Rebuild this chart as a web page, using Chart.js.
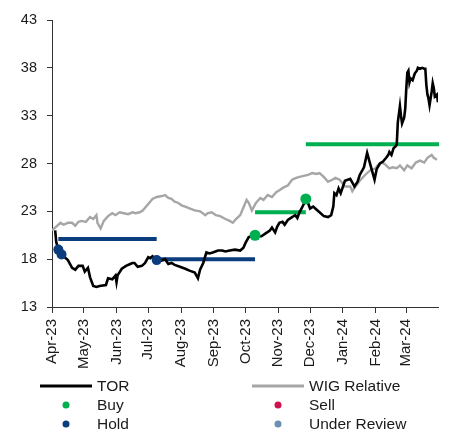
<!DOCTYPE html>
<html>
<head>
<meta charset="utf-8">
<script src="https://cdn.jsdelivr.net/npm/chart.js@4"></script>
<style>
  body { margin: 0; background: #fff; }
  #wrap { width: 449px; height: 432px; }
</style>
</head>
<body>
<div id="wrap"><canvas id="chart"></canvas></div>
<script>
// x values are days counted from 1 Apr 2023
const monthLabels = ["Apr-23", "May-23", "Jun-23", "Jul-23", "Aug-23", "Sep-23",
  "Oct-23", "Nov-23", "Dec-23", "Jan-24", "Feb-24", "Mar-24"];

const torDays = [3, 4, 6, 9, 12, 15, 19, 22, 25, 29, 31, 34, 36, 39, 42, 45, 51, 53, 57, 60,
  61, 62, 66, 70, 74, 76, 78, 81, 85, 88, 91, 93, 95, 99, 102, 107, 110, 113, 116, 121,
  126, 130, 135, 138, 140, 143, 146, 149, 152, 157, 161, 164, 168, 173, 178, 181, 183, 186, 192, 195,
  198, 202, 206, 208, 211, 213, 215, 218, 220, 223, 227, 230, 232, 234, 236, 240, 242, 244, 247, 250,
  253, 257, 261, 264, 266, 267, 269, 271, 273, 277, 282, 284, 286, 289, 291, 295, 298, 302, 305, 307,
  310, 313, 316, 318, 319, 321, 323, 325, 326, 327, 329, 330, 331, 333, 334, 335, 336, 337, 338, 339,
  341, 343, 345, 346, 348, 350, 352, 353, 354, 355, 356, 357, 359, 360, 361, 362, 364, 365];
const torValues = [21.0, 19.8, 19.0, 18.5, 18.2, 17.9, 17.1, 16.9, 17.3, 17.3, 16.7, 17.1, 16.1, 15.2, 15.1, 15.2, 15.3, 16.0, 15.9, 16.3,
  15.6, 16.3, 17.0, 17.3, 17.5, 17.6, 17.6, 17.2, 17.3, 17.6, 18.2, 18.1, 18.3, 17.9, 17.8, 18.0, 17.5, 17.6, 17.4, 17.2,
  17.0, 16.8, 16.6, 16.0, 16.9, 17.6, 18.7, 18.6, 18.7, 18.9, 18.9, 18.8, 18.9, 19.0, 18.9, 19.2, 19.7, 20.3, 20.5, 20.4,
  20.4, 20.7, 21.0, 21.3, 20.8, 21.4, 21.8, 21.9, 21.6, 22.1, 22.4, 22.6, 22.3, 22.9, 23.3, 24.2, 23.9, 23.3, 23.5, 23.2,
  22.9, 22.5, 22.4, 22.6, 23.5, 24.9, 24.7, 25.4, 24.9, 26.2, 26.4, 26.0, 25.6, 26.1, 26.8, 27.6, 29.1, 27.5, 26.3, 27.4,
  28.0, 28.2, 28.6, 28.9, 29.2, 28.9, 29.6, 29.8, 30.0, 32.3, 34.0, 33.0, 32.2, 32.8, 33.7, 35.8, 37.5, 37.7, 36.5, 36.9,
  36.7, 37.4, 37.7, 38.0, 37.9, 38.0, 37.9, 37.9, 36.2, 35.2, 34.8, 34.1, 35.5, 36.4, 35.9, 35.0, 35.2, 34.4];

const wigDays = [0, 4, 8, 11, 15, 19, 22, 25, 28, 32, 36, 39, 42, 43, 46, 49, 53, 57, 60, 64,
  68, 72, 76, 79, 83, 86, 89, 92, 95, 99, 104, 107, 110, 113, 116, 119, 123, 126, 130, 135,
  140, 145, 147, 151, 155, 159, 164, 168, 171, 174, 178, 181, 184, 186, 189, 193, 197, 200, 204, 208,
  212, 215, 219, 223, 227, 231, 234, 238, 242, 246, 250, 253, 257, 261, 265, 268, 272, 277, 282, 284,
  287, 291, 296, 301, 306, 308, 312, 315, 318, 319, 322, 326, 329, 333, 336, 340, 344, 348, 352, 355,
  359, 361, 364];
const wigValues = [21.0, 21.4, 21.8, 21.6, 21.8, 21.8, 21.5, 21.9, 22.0, 21.9, 22.4, 22.2, 22.6, 21.8, 21.2, 22.0, 22.5, 22.8, 22.6, 22.9,
  22.8, 22.7, 22.9, 22.8, 22.9, 23.1, 23.5, 23.9, 24.3, 24.5, 24.6, 24.7, 24.4, 24.3, 24.0, 23.9, 23.6, 23.5, 23.3, 23.1,
  23.0, 22.6, 22.8, 22.9, 22.6, 22.5, 22.2, 22.0, 21.8, 22.2, 22.6, 23.4, 24.2, 23.9, 23.1, 23.9, 24.4, 24.2, 24.7, 24.5,
  25.0, 25.2, 25.5, 25.7, 26.3, 26.5, 26.6, 26.7, 26.8, 27.0, 26.9, 27.0, 26.6, 26.1, 26.3, 26.5, 26.3, 25.6, 25.6, 25.1,
  25.6, 26.2, 26.8, 27.3, 27.5, 27.8, 28.1, 27.9, 27.6, 27.5, 27.6, 27.5, 27.8, 27.3, 27.8, 27.5, 28.1, 28.3, 28.1, 28.6,
  28.9, 28.6, 28.4];

const buyDays = [192, 240];
const buyValues = [20.5, 24.3];
const holdDays = [6, 9, 99];
const holdValues = [19.0, 18.5, 17.9];

// target price periods
const buyTargetFrom = [192, 240];
const buyTargetTo = [240, 366];
const buyTargetValues = [22.9, 30.0];
const holdTargetFrom = [6, 99];
const holdTargetTo = [99, 192];
const holdTargetValues = [20.1, 18.0];

const legendLabels = ["TOR", "WIG Relative", "Buy", "Sell", "Hold", "Under Review"];
const legendColors = ["#000000", "#A6A6A6", "#00B050", "#D0104C", "#0B3C7D", "#6A8FB0"];
const legendKinds = ["line", "line", "dot", "dot", "dot", "dot"];

const GREEN = "#00B050";
const BLUE = "#0B3C7D";
const FONT = "'Liberation Sans', Arial, sans-serif";

const toPoints = (xs, ys) => xs.map((x, i) => ({ x, y: ys[i] }));

function targetSets(from, to, values, color) {
  return values.map((v, i) => ({
    label: "target",
    data: [{ x: from[i], y: v }, { x: to[i], y: v }],
    borderColor: color,
    borderWidth: 4,
    pointRadius: 0,
    borderCapStyle: "butt",
    clip: 4,
  }));
}

const dayOfMonth = monthLabels.map((_, i) =>
  (Date.UTC(2023, 3 + i, 1) - Date.UTC(2023, 3, 1)) / 86400000);

const legendPlugin = {
  id: "sideLegend",
  afterDraw(chart) {
    const ctx = chart.ctx;
    const colX = [40, 252];
    const rowY = [386, 405, 424];
    ctx.save();
    ctx.font = "15.5px " + FONT;
    ctx.textBaseline = "middle";
    ctx.textAlign = "left";
    legendLabels.forEach((text, i) => {
      const x0 = colX[i % 2];
      const y = rowY[Math.floor(i / 2)];
      if (legendKinds[i] === "line") {
        ctx.strokeStyle = legendColors[i];
        ctx.lineWidth = 3;
        ctx.beginPath();
        ctx.moveTo(x0, y);
        ctx.lineTo(x0 + 52, y);
        ctx.stroke();
      } else {
        ctx.fillStyle = legendColors[i];
        ctx.beginPath();
        ctx.arc(x0 + 26, y, 3.5, 0, Math.PI * 2);
        ctx.fill();
      }
      ctx.fillStyle = "#1a1a1a";
      ctx.fillText(text, x0 + 57, y + 1);
    });
    ctx.restore();
  }
};

const datasets = [
  {
    label: "Buy",
    data: toPoints(buyDays, buyValues),
    showLine: false,
    pointRadius: 5.5,
    pointBackgroundColor: GREEN,
    pointBorderWidth: 0,
  },
  {
    label: "Hold",
    data: toPoints(holdDays, holdValues),
    showLine: false,
    pointRadius: 5,
    pointBackgroundColor: BLUE,
    pointBorderWidth: 0,
  },
  {
    label: "TOR",
    data: toPoints(torDays, torValues),
    borderColor: "#000000",
    borderWidth: 2.6,
    pointRadius: 0,
  },
  ...targetSets(buyTargetFrom, buyTargetTo, buyTargetValues, GREEN),
  ...targetSets(holdTargetFrom, holdTargetTo, holdTargetValues, BLUE),
  {
    label: "WIG Relative",
    data: toPoints(wigDays, wigValues),
    borderColor: "#A6A6A6",
    borderWidth: 2.4,
    pointRadius: 0,
  },
];

Chart.defaults.font.family = FONT;
Chart.defaults.color = "#1a1a1a";

new Chart(document.getElementById("chart"), {
  type: "line",
  data: { datasets },
  options: {
    responsive: true,
    maintainAspectRatio: false,
    animation: false,
    devicePixelRatio: 1,
    layout: { padding: { top: 20, right: 11, left: 0, bottom: 0 } },
    plugins: { legend: { display: false }, tooltip: { enabled: false } },
    scales: {
      x: {
        type: "linear",
        min: 0,
        max: 365,
        afterBuildTicks: (scale) => {
          scale.ticks = dayOfMonth.map(v => ({ value: v }));
        },
        afterFit: (scale) => { scale.height = 125; },
        ticks: {
          autoSkip: false,
          maxRotation: 90,
          minRotation: 90,
          padding: 6,
          font: { size: 15 },
          callback: (value, index) => monthLabels[index],
        },
        grid: { drawOnChartArea: false, drawTicks: true, tickLength: 6, color: "#333" },
        border: { display: true, color: "#333", width: 1 },
      },
      y: {
        min: 13,
        max: 43,
        afterFit: (scale) => { scale.width = 52; },
        ticks: { stepSize: 5, padding: 10, font: { size: 14.5 } },
        grid: { drawOnChartArea: false, drawTicks: true, tickLength: 5, color: "#333" },
        border: { display: true, color: "#333", width: 1 },
      },
    },
  },
  plugins: [legendPlugin],
});
</script>
</body>
</html>
